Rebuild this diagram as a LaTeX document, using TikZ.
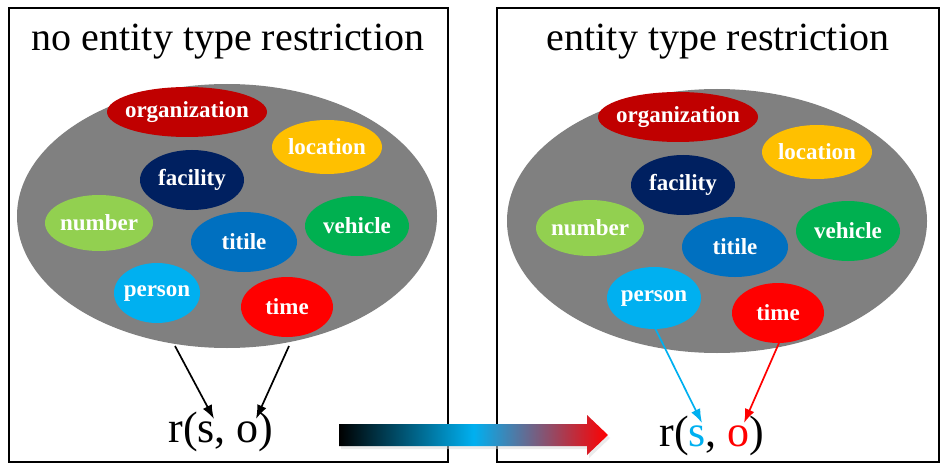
\documentclass[tikz,border=0pt]{standalone}
\usepackage{fontspec}
\setmainfont{Liberation Serif}
\usetikzlibrary{shapes.geometric,arrows.meta}
\definecolor{grayfill}{RGB}{128,128,128}
\definecolor{cOrg}{RGB}{192,0,0}
\definecolor{cLoc}{RGB}{255,192,0}
\definecolor{cFac}{RGB}{0,32,96}
\definecolor{cNum}{RGB}{146,208,80}
\definecolor{cTit}{RGB}{0,112,192}
\definecolor{cVeh}{RGB}{0,176,80}
\definecolor{cPer}{RGB}{0,176,240}
\definecolor{cTim}{RGB}{255,0,0}
\tikzset{
  panel/.style={draw=black,line width=2pt},
  blob/.style={ellipse,fill=grayfill,draw=none,inner sep=0pt},
  ent/.style={ellipse,draw=none,inner xsep=-16pt,inner ysep=-6pt,text=white,font=\fontsize{23}{23}\selectfont\bfseries},
  ttl/.style={font=\fontsize{40}{40}\selectfont,inner sep=0pt},
  rel/.style={font=\fontsize{44}{44}\selectfont,inner sep=0pt},
  conn/.style={line width=1.7pt,-{Latex[length=14pt,width=10pt]}},
}
\begin{document}
\begin{tikzpicture}[x=1pt,y=-1pt]
\useasboundingbox (0,0) rectangle (945,468);
\fill[white] (0,0) rectangle (945,468);
% panels
\draw[panel] (9,8) rectangle (448,462);
\draw[panel] (497,8) rectangle (939,462);
% titles
\node[ttl] (tl) at (228,42) {no entity type restriction};
\node[ttl] (tr) at (718,42) {entity type restriction};
% left blob
\node[blob,minimum width=420pt,minimum height=264pt] (gl) at (227,216) {};
\node[ent,fill=cOrg,minimum width=160pt,minimum height=50pt] (orgL) at (187,112) {organization};
\node[ent,fill=cLoc,minimum width=110pt,minimum height=54pt] (locL) at (327,147) {location};
\node[ent,fill=cFac,minimum width=104pt,minimum height=60pt] (facL) at (192,180) {facility};
\node[ent,fill=cNum,minimum width=108pt,minimum height=56pt] (numL) at (99,223) {number};
\node[ent,fill=cTit,minimum width=106pt,minimum height=60pt] (titL) at (244,242) {titile};
\node[ent,fill=cVeh,minimum width=104pt,minimum height=60pt] (vehL) at (357,226) {vehicle};
\node[ent,fill=cPer,minimum width=86pt,minimum height=60pt] (perL) at (157,293) {person};
\node[ent,fill=cTim,minimum width=92pt,minimum height=60pt] (timL) at (287,307) {time};
% right blob
\node[blob,minimum width=420pt,minimum height=264pt] (gr) at (717,221) {};
\node[ent,fill=cOrg,minimum width=160pt,minimum height=50pt] (orgR) at (678,117) {organization};
\node[ent,fill=cLoc,minimum width=110pt,minimum height=54pt] (locR) at (817,152) {location};
\node[ent,fill=cFac,minimum width=104pt,minimum height=60pt] (facR) at (683,185) {facility};
\node[ent,fill=cNum,minimum width=108pt,minimum height=56pt] (numR) at (590,228) {number};
\node[ent,fill=cTit,minimum width=106pt,minimum height=60pt] (titR) at (735,247) {titile};
\node[ent,fill=cVeh,minimum width=104pt,minimum height=60pt] (vehR) at (848,231) {vehicle};
\node[ent,fill=cPer,minimum width=94pt,minimum height=62pt] (perR) at (654,298) {person};
\node[ent,fill=cTim,minimum width=92pt,minimum height=60pt] (timR) at (778,313) {time};
% relations
\node[rel] (rl) at (221,432) {r(s, o)};
\node[rel] (rr) at (712,436) {r(\textcolor{cPer}{s}, \textcolor{cTim}{o})};
% arrow endpoints
\coordinate (sL1) at (175,346);
\coordinate (sL2) at (289,346);
\coordinate (eL1) at (214,419);
\coordinate (eL2) at (256,419);
\coordinate (sR1) at (655,328);
\coordinate (sR2) at (779,343);
\coordinate (eR1) at (702,423);
\coordinate (eR2) at (744,423);
\draw[conn,black] (sL1) -- (eL1);
\draw[conn,black] (sL2) -- (eL2);
\draw[conn,cPer] (sR1) -- (eR1);
\draw[conn,cTim] (sR2) -- (eR2);
% gradient arrow
\coordinate (ga) at (339,435);
\coordinate (gb) at (608,435);
\fill[gray!30,opacity=0.5] (341,427) -- (589,427) -- (589,418) -- (610,438) -- (589,458) -- (589,449) -- (341,449) -- cycle;
\shade[left color=black,right color=cTim,middle color=cPer]
  (ga) ++(0,-11) -- (587,424) -- (587,415) -- (gb) -- (587,455) -- (587,446) -- (339,446) -- cycle;
\end{tikzpicture}
\end{document}
